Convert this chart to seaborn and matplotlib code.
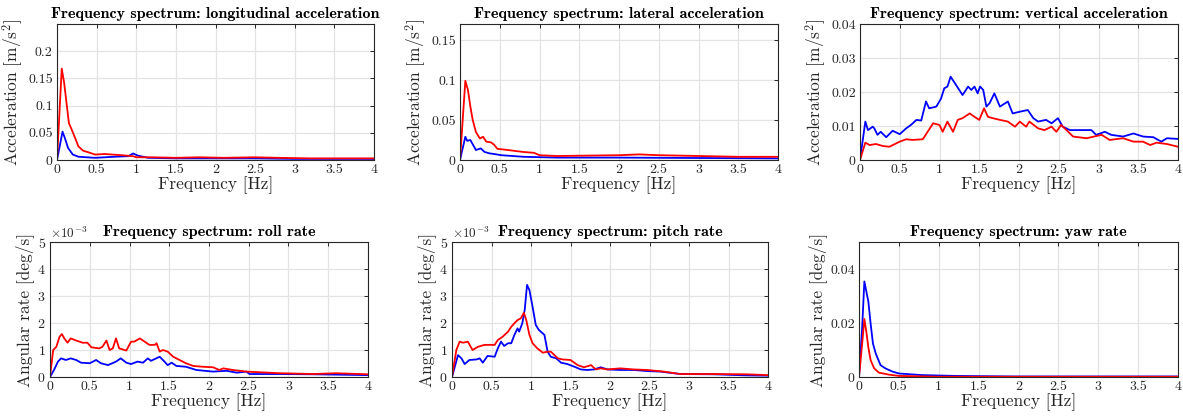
#!/usr/bin/env python3
# frequency spectra of the six vehicle motion channels (2 x 3 panels)

import pandas as pd
import matplotlib.pyplot as plt
import matplotlib.ticker as mticker
import seaborn as sns

sns.set_theme(style="whitegrid")
plt.rcParams["font.family"] = ["cmr10", "DejaVu Serif"]
plt.rcParams["mathtext.fontset"] = "cm"
plt.rcParams["axes.formatter.use_mathtext"] = True
plt.rcParams["axes.unicode_minus"] = False

# --- data (frequency in Hz) ---
# longitudinal acceleration [m/s^2]
lon_f_red = [0, 0.06, 0.09, 0.12, 0.15, 0.185, 0.23, 0.27, 0.33, 0.4, 0.48, 0.6, 0.8, 0.96,
             1.0, 1.2, 1.5, 1.8, 2.1, 2.5, 2.8, 3.2, 3.6, 4.0]
lon_red = [0, 0.168, 0.142, 0.105, 0.068, 0.056, 0.040, 0.025, 0.017, 0.014, 0.010, 0.011,
           0.009, 0.007, 0.005, 0.005, 0.004, 0.005, 0.004, 0.005, 0.004, 0.003, 0.003, 0.003]
lon_f_blue = [0, 0.07, 0.1, 0.14, 0.2, 0.27, 0.48, 0.73, 0.9, 0.96, 1.02, 1.15, 1.5, 2.0,
              2.5, 3.0, 3.5, 4.0]
lon_blue = [0, 0.052, 0.040, 0.022, 0.010, 0.006, 0.004, 0.006, 0.007, 0.012, 0.008, 0.004,
            0.003, 0.003, 0.003, 0.002, 0.002, 0.002]

# lateral acceleration [m/s^2]
lat_f_red = [0, 0.067, 0.1, 0.13, 0.16, 0.2, 0.25, 0.29, 0.33, 0.39, 0.43, 0.47, 0.6, 0.8,
             0.93, 1.0, 1.22, 1.6, 2.0, 2.25, 2.5, 3.0, 3.5, 4.0]
lat_red = [0, 0.099, 0.0875, 0.067, 0.050, 0.035, 0.027, 0.029, 0.023, 0.022, 0.019, 0.014,
           0.0125, 0.010, 0.009, 0.006, 0.005, 0.0055, 0.006, 0.007, 0.006, 0.005, 0.004, 0.004]
lat_f_blue = [0, 0.067, 0.09, 0.13, 0.175, 0.2, 0.26, 0.31, 0.37, 0.43, 0.52, 0.8, 1.22,
              2.0, 3.0, 4.0]
lat_blue = [0, 0.029, 0.024, 0.025, 0.017, 0.0125, 0.0145, 0.010, 0.0083, 0.0075, 0.006,
            0.004, 0.003, 0.003, 0.0025, 0.002]

# vertical acceleration [m/s^2]
ver_f_blue = [0, 0.067, 0.1, 0.16, 0.18, 0.22, 0.26, 0.33, 0.41, 0.5, 0.58, 0.64, 0.71, 0.77,
              0.83, 0.87, 0.96, 1.02, 1.06, 1.1, 1.14, 1.21, 1.29, 1.36, 1.4, 1.44, 1.48,
              1.51, 1.55, 1.59, 1.63, 1.69, 1.76, 1.86, 1.92, 2.01, 2.11, 2.18, 2.24, 2.34,
              2.41, 2.49, 2.55, 2.64, 2.81, 2.91, 2.97, 3.08, 3.16, 3.31, 3.44, 3.56, 3.69,
              3.79, 3.86, 4.0]
ver_blue = [0, 0.0113, 0.0088, 0.0098, 0.0093, 0.0074, 0.0083, 0.0067, 0.0086, 0.0076,
            0.0093, 0.0103, 0.0118, 0.0116, 0.0172, 0.0152, 0.0157, 0.0181, 0.0211, 0.0216,
            0.0245, 0.0220, 0.0191, 0.0216, 0.0206, 0.0216, 0.0196, 0.0216, 0.0206, 0.0157,
            0.0167, 0.0196, 0.0157, 0.0172, 0.0137, 0.0142, 0.0147, 0.0123, 0.0113, 0.0118,
            0.0108, 0.0123, 0.0098, 0.0088, 0.0088, 0.0088, 0.0074, 0.0083, 0.0074, 0.0069,
            0.0078, 0.0069, 0.0067, 0.0054, 0.0064, 0.0062]
ver_f_red = [0, 0.067, 0.12, 0.2, 0.29, 0.37, 0.5, 0.58, 0.66, 0.79, 0.92, 1.0, 1.04, 1.1,
             1.17, 1.23, 1.29, 1.38, 1.44, 1.5, 1.56, 1.61, 1.67, 1.76, 1.86, 1.95, 2.01,
             2.09, 2.13, 2.24, 2.32, 2.41, 2.47, 2.53, 2.68, 2.85, 3.04, 3.14, 3.31, 3.44,
             3.56, 3.65, 3.73, 3.86, 4.0]
ver_red = [0, 0.0051, 0.0044, 0.0047, 0.0041, 0.0039, 0.0054, 0.0061, 0.0059, 0.0061,
           0.0108, 0.0103, 0.0083, 0.0113, 0.0083, 0.0118, 0.0123, 0.0137, 0.0127, 0.0118,
           0.0152, 0.0127, 0.0123, 0.0118, 0.0113, 0.0098, 0.0113, 0.0098, 0.0113, 0.0093,
           0.0088, 0.0098, 0.0083, 0.0103, 0.0069, 0.0064, 0.0074, 0.0059, 0.0064, 0.0054,
           0.0054, 0.0044, 0.0051, 0.0047, 0.0039]

# roll rate [deg/s]
roll_f_red = [0, 0.04, 0.08, 0.12, 0.15, 0.18, 0.22, 0.26, 0.33, 0.41, 0.47, 0.52, 0.62,
              0.66, 0.71, 0.75, 0.79, 0.83, 0.87, 0.96, 1.02, 1.06, 1.13, 1.19, 1.25, 1.32,
              1.34, 1.38, 1.42, 1.48, 1.55, 1.63, 1.71, 1.8, 1.92, 2.05, 2.13, 2.18, 2.3,
              2.47, 2.68, 2.89, 3.31, 3.6, 4.0]
roll_red = [0, 1.0e-3, 1.12e-3, 1.49e-3, 1.59e-3, 1.43e-3, 1.27e-3, 1.43e-3, 1.35e-3,
            1.27e-3, 1.27e-3, 1.10e-3, 1.06e-3, 1.12e-3, 1.35e-3, 1.0e-3, 1.06e-3, 1.43e-3,
            1.06e-3, 0.98e-3, 1.31e-3, 1.31e-3, 1.43e-3, 1.31e-3, 1.19e-3, 1.19e-3, 1.25e-3,
            0.94e-3, 1.0e-3, 0.94e-3, 0.75e-3, 0.63e-3, 0.51e-3, 0.41e-3, 0.38e-3, 0.36e-3,
            0.26e-3, 0.32e-3, 0.26e-3, 0.20e-3, 0.17e-3, 0.14e-3, 0.11e-3, 0.14e-3, 0.10e-3]
roll_f_blue = [0, 0.05, 0.1, 0.14, 0.2, 0.26, 0.33, 0.39, 0.5, 0.58, 0.64, 0.73, 0.83, 0.89,
               0.96, 1.02, 1.1, 1.17, 1.23, 1.27, 1.38, 1.44, 1.48, 1.53, 1.59, 1.71, 1.84,
               2.05, 2.22, 2.35, 2.47, 2.51, 2.89, 3.31, 4.0]
roll_blue = [0, 0.26e-3, 0.57e-3, 0.69e-3, 0.63e-3, 0.69e-3, 0.63e-3, 0.53e-3, 0.51e-3,
             0.63e-3, 0.51e-3, 0.44e-3, 0.57e-3, 0.69e-3, 0.53e-3, 0.48e-3, 0.57e-3, 0.53e-3,
             0.69e-3, 0.60e-3, 0.75e-3, 0.57e-3, 0.44e-3, 0.53e-3, 0.41e-3, 0.38e-3, 0.26e-3,
             0.20e-3, 0.23e-3, 0.16e-3, 0.20e-3, 0.11e-3, 0.11e-3, 0.10e-3, 0.07e-3]

# pitch rate [deg/s]
pitch_f_blue = [0, 0.076, 0.12, 0.16, 0.22, 0.31, 0.35, 0.39, 0.45, 0.54, 0.58, 0.62, 0.66,
                0.71, 0.75, 0.79, 0.83, 0.85, 0.89, 0.92, 0.95, 0.98, 1.02, 1.06, 1.1, 1.17,
                1.21, 1.25, 1.32, 1.38, 1.46, 1.55, 1.63, 1.71, 1.8, 1.88, 1.97, 2.13, 2.3,
                2.47, 2.64, 2.89, 3.31, 3.73, 4.0]
pitch_blue = [0, 0.81e-3, 0.69e-3, 0.48e-3, 0.63e-3, 0.65e-3, 0.69e-3, 0.53e-3, 0.78e-3,
              0.75e-3, 1.06e-3, 1.31e-3, 1.15e-3, 1.25e-3, 1.25e-3, 1.56e-3, 1.80e-3,
              1.68e-3, 1.99e-3, 2.48e-3, 3.41e-3, 3.22e-3, 2.60e-3, 1.93e-3, 1.74e-3,
              1.56e-3, 0.94e-3, 0.75e-3, 0.69e-3, 0.53e-3, 0.48e-3, 0.38e-3, 0.28e-3,
              0.26e-3, 0.28e-3, 0.36e-3, 0.28e-3, 0.26e-3, 0.26e-3, 0.22e-3, 0.20e-3,
              0.11e-3, 0.10e-3, 0.06e-3, 0.05e-3]
pitch_f_red = [0, 0.055, 0.097, 0.14, 0.2, 0.26, 0.33, 0.41, 0.54, 0.58, 0.64, 0.71, 0.75,
               0.79, 0.83, 0.87, 0.91, 0.94, 0.98, 1.02, 1.08, 1.15, 1.21, 1.25, 1.34, 1.4,
               1.5, 1.59, 1.67, 1.76, 1.82, 1.88, 1.97, 2.13, 2.3, 2.47, 2.68, 2.89, 3.31,
               3.73, 4.0]
pitch_red = [0, 1.0e-3, 1.31e-3, 1.27e-3, 1.31e-3, 1.0e-3, 1.12e-3, 1.19e-3, 1.19e-3,
             1.37e-3, 1.49e-3, 1.68e-3, 1.86e-3, 1.99e-3, 2.11e-3, 2.17e-3, 2.38e-3,
             2.11e-3, 1.56e-3, 1.25e-3, 1.06e-3, 0.90e-3, 0.94e-3, 0.94e-3, 0.69e-3,
             0.65e-3, 0.63e-3, 0.44e-3, 0.36e-3, 0.44e-3, 0.28e-3, 0.32e-3, 0.28e-3,
             0.32e-3, 0.28e-3, 0.26e-3, 0.20e-3, 0.11e-3, 0.11e-3, 0.10e-3, 0.07e-3]

# yaw rate [deg/s]
yaw_f_blue = [0, 0.04, 0.067, 0.09, 0.117, 0.146, 0.175, 0.21, 0.27, 0.33, 0.42, 0.5, 0.79,
              1.21, 1.96, 3.0, 4.0]
yaw_blue = [0, 0.0185, 0.0354, 0.032, 0.028, 0.0197, 0.0124, 0.0087, 0.0044, 0.0032, 0.002,
            0.0013, 0.0007, 0.0004, 0.0002, 0.0002, 0.0002]
yaw_f_red = [0, 0.04, 0.067, 0.09, 0.117, 0.146, 0.19, 0.25, 0.37, 0.5, 1.0, 2.0, 4.0]
yaw_red = [0, 0.0124, 0.0215, 0.0172, 0.011, 0.0062, 0.0032, 0.0016, 0.0009, 0.0004, 0.0001,
           0.0001, 0.0001]

panels = [
    ("longitudinal acceleration", "Acceleration [m/s$^2$]", 0.25, [0, 0.05, 0.1, 0.15, 0.2],
     lon_f_red, lon_red, lon_f_blue, lon_blue, False),
    ("lateral acceleration", "Acceleration [m/s$^2$]", 0.17, [0, 0.05, 0.1, 0.15],
     lat_f_red, lat_red, lat_f_blue, lat_blue, False),
    ("vertical acceleration", "Acceleration [m/s$^2$]", 0.04, [0, 0.01, 0.02, 0.03, 0.04],
     ver_f_red, ver_red, ver_f_blue, ver_blue, False),
    ("roll rate", "Angular rate [deg/s]", 5e-3, [0, 1e-3, 2e-3, 3e-3, 4e-3, 5e-3],
     roll_f_red, roll_red, roll_f_blue, roll_blue, True),
    ("pitch rate", "Angular rate [deg/s]", 5e-3, [0, 1e-3, 2e-3, 3e-3, 4e-3, 5e-3],
     pitch_f_red, pitch_red, pitch_f_blue, pitch_blue, True),
    ("yaw rate", "Angular rate [deg/s]", 0.05, [0, 0.02, 0.04],
     yaw_f_red, yaw_red, yaw_f_blue, yaw_blue, False),
]

# axes rectangles in pixels (left, top, width, height) of a 1183 x 416 canvas
W, H = 1183, 416
boxes = [(57, 24, 317, 136), (460, 24, 318, 136), (860, 24, 318, 136),
         (50, 242, 318, 135), (452, 242, 316, 135), (859, 242, 319, 135)]

fig = plt.figure(figsize=(W / 100, H / 100), dpi=100)
grey = "#262626"

for (name, ylab, ymax, yticks, fr, vr, fb, vb, sci), (l, t, w, h) in zip(panels, boxes):
    ax = fig.add_axes([l / W, 1 - (t + h) / H, w / W, h / H])
    order = [("blue", fb, vb), ("red", fr, vr)]
    for col, f, v in order:
        df = pd.DataFrame({"f": f, "v": v})
        sns.lineplot(data=df, x="f", y="v", color=col, lw=1.3, estimator=None,
                     sort=False, ax=ax)
    ax.set_xlim(0, 4)
    ax.set_ylim(0, ymax)
    ax.set_xticks([0, 0.5, 1, 1.5, 2, 2.5, 3, 3.5, 4])
    ax.set_yticks(yticks)
    ax.xaxis.set_major_formatter(mticker.FuncFormatter(lambda x, p: f"{x:g}"))
    if sci:
        ax.ticklabel_format(axis="y", style="sci", scilimits=(0, 0), useMathText=True)
        ax.yaxis.get_offset_text().set_fontsize(9.5)
        ax.yaxis.get_offset_text().set_color(grey)
    else:
        ax.yaxis.set_major_formatter(mticker.FuncFormatter(lambda x, p: f"{x:g}"))
    ax.set_facecolor("white")
    ax.grid(True, color="#e3e3e3", lw=0.9)
    for s in ax.spines.values():
        s.set_color(grey)
        s.set_linewidth(0.8)
        s.set_visible(True)
    ax.tick_params(direction="in", length=3, width=0.7, color=grey, top=True, right=True,
                   labelsize=10, labelcolor=grey, pad=3)
    ax.set_title(f"Frequency spectrum: {name}", fontsize=11.6,
                 family=["cmb10", "DejaVu Serif"], pad=4, color="black")
    ax.set_xlabel("Frequency [Hz]", fontsize=12.5, color=grey, labelpad=0)
    ax.set_ylabel(ylab, fontsize=12.5, color=grey, labelpad=2)

fig.savefig("out.png", dpi=100)
plt.close(fig)
